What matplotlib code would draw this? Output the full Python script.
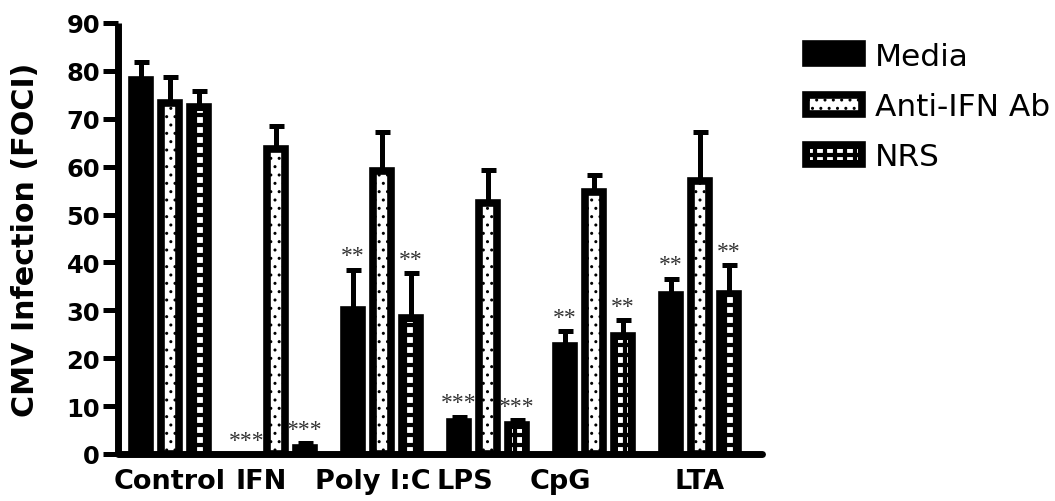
import numpy as np
import matplotlib
matplotlib.use("Agg")
import matplotlib.pyplot as plt
import matplotlib.hatch as mhatch
from matplotlib.path import Path
from matplotlib.patches import Patch, Rectangle
from matplotlib.legend_handler import HandlerPatch, HandlerTuple

# ---------------- data ----------------
categories = ["Control", "IFN", "Poly I:C", "LPS", "CpG", "LTA"]
series_names = ["Media", "Anti-IFN Ab", "NRS"]
media = [78.1, 0.0, 30.0, 6.6, 22.5, 33.1]
media_err = [3.7, 0.0, 8.5, 1.2, 3.1, 3.5]
anti_ifn = [73.2, 63.6, 59.1, 52.5, 54.7, 57.0]
anti_ifn_err = [5.5, 4.9, 8.2, 6.8, 3.6, 10.3]
nrs = [72.5, 1.3, 28.4, 6.0, 24.6, 33.5]
nrs_err = [3.2, 0.95, 9.4, 1.1, 3.4, 6.0]
media_stars = ["", "***", "**", "***", "**", "**"]
anti_stars = ["", "", "", "", "", ""]
nrs_stars = ["", "***", "**", "***", "**", "**"]
yticks = [0, 10, 20, 30, 40, 50, 60, 70, 80, 90]
label_shift = [0.0, -0.14, -0.085, -0.22, -0.32, 0.0]  # layout tweak of group labels


# ------------- custom square hatch (white squares of NRS bars) -------------
class _SquareHatch(mhatch.HatchPatternBase):
    size = 0.22

    def __init__(self, hatch, density):
        self.num_rows = hatch.count('*') * 5
        self.num_vertices = 0 if self.num_rows == 0 else (self.num_rows + 1) ** 2 * 5

    def set_vertices_and_codes(self, vertices, codes):
        off = 1.0 / self.num_rows
        h = off * self.size
        sq = np.array([[-h, -h], [h, -h], [h, h], [-h, h], [-h, -h]])
        g = np.arange(self.num_rows + 1) * off
        cx, cy = np.meshgrid(g, g)
        centers = np.column_stack([cx.ravel(), cy.ravel()])
        vertices[:] = (sq[None, :, :] + centers[:, None, :]).reshape(-1, 2)
        codes[:] = np.tile([Path.MOVETO, Path.LINETO, Path.LINETO, Path.LINETO,
                            Path.CLOSEPOLY], len(centers))


mhatch._hatch_types = [t for t in mhatch._hatch_types if t is not mhatch.Stars] + [_SquareHatch]

plt.rcParams['font.family'] = ['DejaVu Sans']
plt.rcParams['hatch.linewidth'] = 1.0

W, H = 1055, 502
fig = plt.figure(figsize=(W / 100, H / 100), dpi=100)
ax = fig.add_axes([118 / W, 47 / H, (762 - 118) / W, (455 - 24) / H])

x = np.arange(len(categories))
step = 0.2736
bw = 0.169
inner_w = 0.097
edge_lw = 5.5
inset = 0.8   # half edge width in data units (~3.8 px)

series = [(media, media_err, media_stars), (anti_ifn, anti_ifn_err, anti_stars),
          (nrs, nrs_err, nrs_stars)]

for k, (vals, errs, stars) in enumerate(series):
    xs = x + (k - 1) * step
    vals = np.asarray(vals)
    errs = np.asarray(errs)
    nz = vals > 0
    if k == 0:
        ax.bar(xs[nz], vals[nz], width=bw, facecolor='black', edgecolor='black',
               linewidth=edge_lw, zorder=2)
    elif k == 1:
        ax.bar(xs[nz], vals[nz], width=bw, facecolor='white', edgecolor='black',
               linewidth=edge_lw, hatch='..', zorder=2)
    else:
        ax.bar(xs[nz], vals[nz], width=bw, facecolor='black', edgecolor='black',
               linewidth=edge_lw, zorder=2)
        inner = np.clip(vals[nz] - inset, 0, None)
        ax.bar(xs[nz], inner, width=inner_w, fill=False, edgecolor='white',
               linewidth=0, hatch='**', zorder=2.1)
    m = errs > 0
    ax.errorbar(xs[m], vals[m], yerr=[np.zeros(m.sum()), errs[m]], fmt='none',
                ecolor='black', elinewidth=3.6, capsize=5.4, capthick=3.6, zorder=1.5)
    for xi, v, e, s in zip(xs, vals, errs, stars):
        if s:
            ax.annotate(s, (xi, v + e), xytext=(0, 6.0), textcoords='offset points',
                        ha='center', va='baseline', fontsize=17,
                        family='Liberation Serif', color='#333333')

ax.set_xlim(-0.4906, 5.585)
ax.set_ylim(0, 90)
ax.set_yticks(yticks)
ax.set_yticklabels([str(t) for t in yticks], fontsize=17.5, fontweight='bold')
ax.set_xticks(x + np.asarray(label_shift))
ax.set_xticklabels(categories, fontsize=19.5, fontweight='bold')
ax.tick_params(axis='x', length=0, pad=10)
ax.tick_params(axis='y', length=10.8, width=3.6, pad=2.2, direction='out')
for s in ['top', 'right']:
    ax.spines[s].set_visible(False)
ax.spines['left'].set_linewidth(5.0)
ax.spines['left'].set_capstyle('butt')
ax.spines['bottom'].set_linewidth(5.0)
ax.spines['bottom'].set_capstyle('round')
ax.set_ylabel("CMV Infection (FOCI)", fontsize=21.7, fontweight='bold', labelpad=19)

# legend
h_media = Patch(facecolor='black', edgecolor='black', linewidth=edge_lw)
h_anti = Patch(facecolor='white', edgecolor='black', linewidth=edge_lw, hatch='..')
h_nrs_base = Patch(facecolor='black', edgecolor='black', linewidth=edge_lw)
h_nrs_over = Patch(fill=False, edgecolor='white', linewidth=0, hatch='**')


def _inner(legend, orig_handle, xdescent, ydescent, width, height, fontsize):
    d = edge_lw / 2
    return Rectangle((-xdescent + d, -ydescent + d), width - 2 * d, height - 2 * d)


fig.legend([h_media, h_anti, (h_nrs_base, h_nrs_over)], series_names,
           handler_map={h_nrs_over: HandlerPatch(patch_func=_inner),
                        tuple: HandlerTuple(ndivide=1, pad=0)},
           loc='upper left', bbox_to_anchor=(805.8 / W, 1 - 43 / H), frameon=False,
           fontsize=22.5, handlelength=1.80, handleheight=0.56, handletextpad=0.40,
           labelspacing=0.68, borderpad=0, borderaxespad=0)

fig.savefig("out.png", dpi=100)
